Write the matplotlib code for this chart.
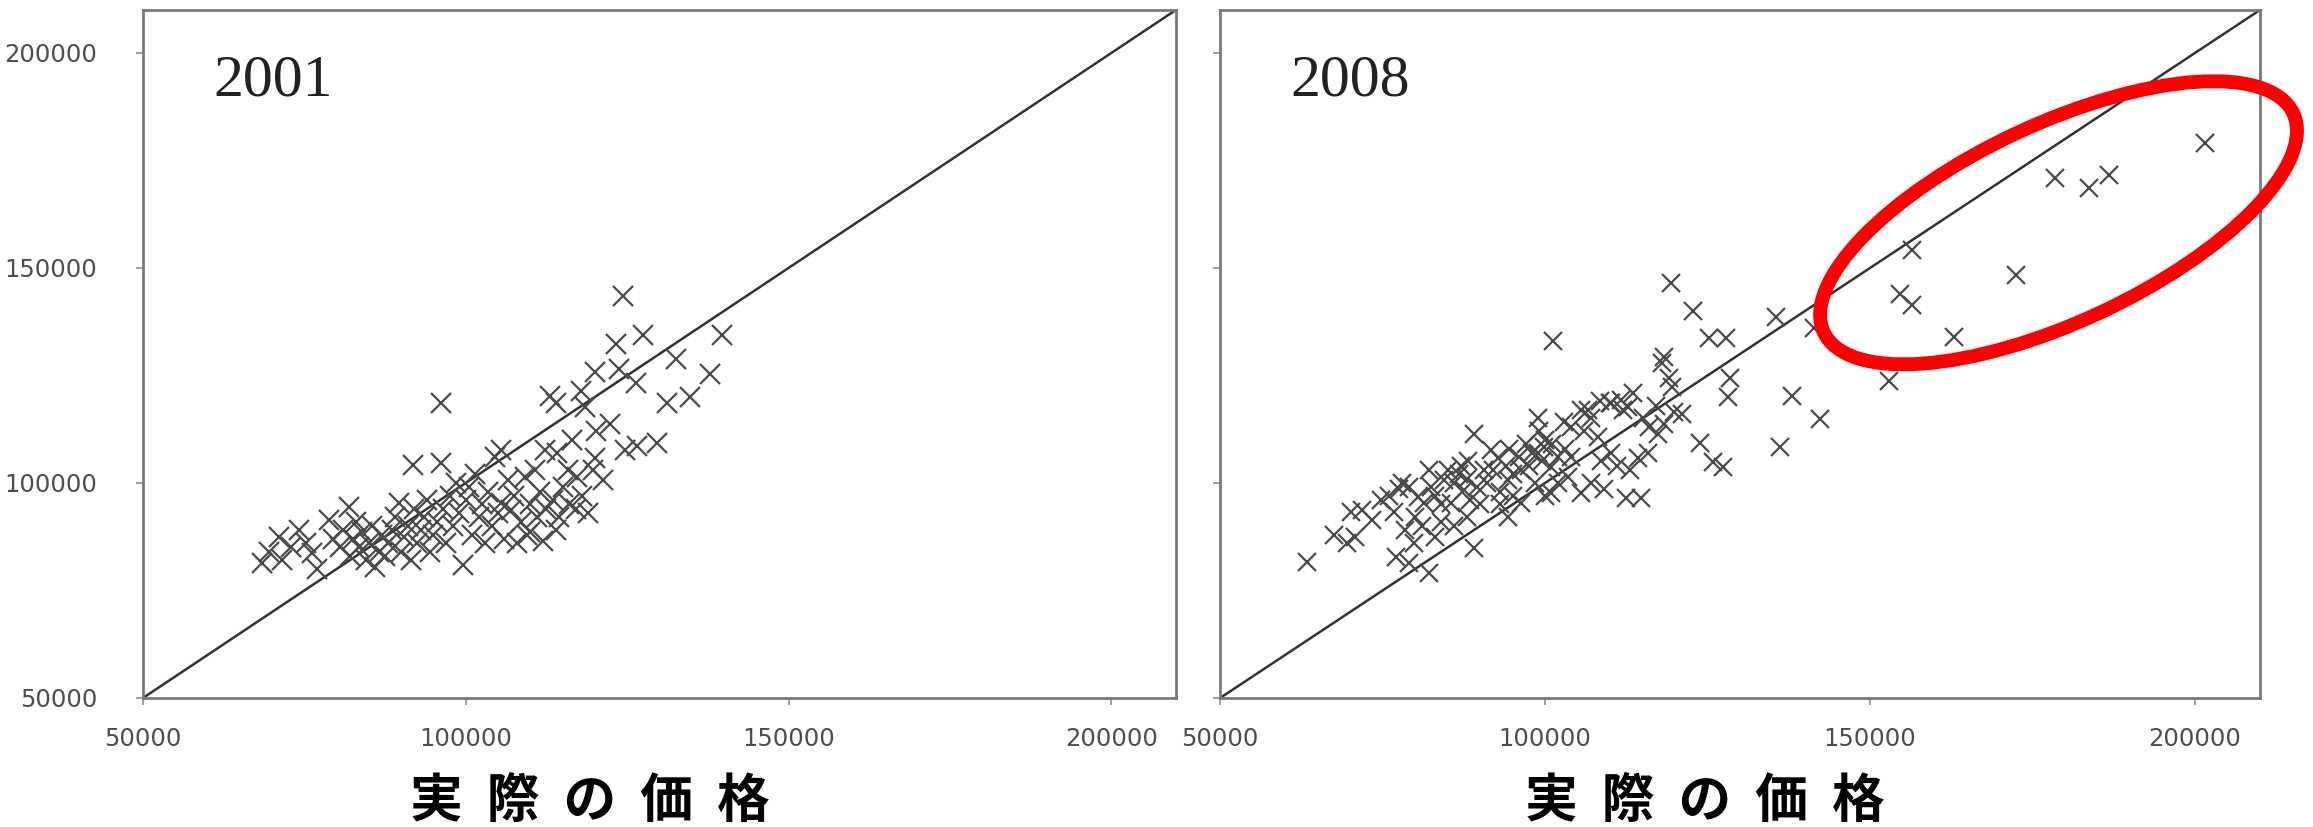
import numpy as np
import matplotlib.pyplot as plt
from matplotlib.patches import Ellipse
from matplotlib.transforms import ScaledTranslation

# predicted vs actual price, 2001
x2001 = [68500, 69500, 71100, 71600, 73000, 74200, 75300, 76200, 77000, 78800,
         79500, 80500, 81000, 81900, 82000, 82500, 83000, 83500, 84000, 84500,
         85000, 85500, 86000, 86500, 87000, 87500, 88000, 88500, 89000, 89600,
         90000, 90500, 91000, 91500, 91900, 92000, 92500, 93000, 93500, 94000,
         94500, 95000, 95500, 96200, 96200, 96500, 97000, 97500, 98000, 98500,
         99000, 99500, 100000, 100500, 101000, 101500, 102000, 102500, 103000, 103500,
         104000, 104500, 105000, 105500, 105500, 106000, 106500, 107000, 107500, 108000,
         108500, 109200, 109500, 110000, 110000, 110700, 111000, 111500, 112000, 112200,
         112500, 113000, 113500, 114000, 114000, 114200, 114500, 115000, 115800, 116000,
         116500, 117000, 117300, 117800, 118000, 118400, 119000, 119700, 120000, 120000,
         120100, 121200, 122400, 123200, 123800, 124300, 124700, 126300, 126600, 127400,
         129700, 131200, 132600, 134700, 137800, 139700]
y2001 = [81300, 84000, 87400, 82000, 85000, 89000, 86000, 83700, 80000, 91300,
         87000, 85000, 89000, 94300, 83000, 87000, 91000, 85000, 88500, 82000,
         86000, 90000, 80400, 84000, 88000, 83000, 86000, 89000, 92000, 95300,
         84000, 87500, 90000, 82000, 104100, 94000, 86000, 89000, 92000, 96000,
         84000, 88000, 91000, 104600, 118500, 94000, 86000, 97000, 90000, 100000,
         93000, 81000, 96000, 99000, 88000, 102000, 92000, 95000, 86000, 98000,
         90000, 106000, 93000, 107600, 95300, 87000, 100600, 93600, 97000, 86000,
         91000, 101300, 88000, 95000, 88500, 102900, 92000, 98000, 86500, 107600,
         94000, 120300, 96000, 118700, 89000, 106900, 92000, 99000, 102900, 95000,
         110000, 94000, 101300, 121500, 97000, 117600, 93000, 102900, 125700, 105700,
         112200, 100600, 113800, 132400, 126600, 143500, 107600, 123300, 108700, 134300,
         109200, 118700, 128900, 119900, 125400, 134300]

# predicted vs actual price, 2008
x2008 = [63300, 67500, 69500, 70700, 70200, 71800, 73300, 74800, 76000, 76800,
         77100, 77500, 78000, 78400, 79000, 79000, 79900, 80000, 80500, 81000,
         81400, 82100, 82200, 82500, 83000, 83000, 84000, 84000, 84500, 85000,
         85600, 86000, 86000, 86700, 87000, 87600, 88000, 88000, 88200, 88500,
         89100, 89100, 89500, 90000, 90600, 91000, 91700, 92000, 92800, 93000,
         93000, 94000, 94300, 94300, 94500, 95000, 95000, 96000, 96300, 96300,
         97000, 97500, 98000, 98500, 98900, 98900, 99000, 99500, 99900, 100000,
         100000, 100900, 100900, 101000, 101200, 102000, 102000, 102900, 103000, 103500,
         104000, 104000, 105500, 105500, 106000, 106600, 107000, 107000, 108100, 108500,
         108600, 109000, 110000, 110100, 110100, 111000, 111700, 112000, 112400, 112700,
         113000, 113500, 114300, 114700, 115000, 115800, 116000, 117000, 117300, 118000,
         118300, 118300, 119000, 119300, 119600, 119800, 121000, 122700, 123900, 125200,
         125800, 127300, 127800, 128100, 128500, 135600, 136200, 138000, 141300, 142300,
         152900, 154600, 156400, 156400, 162900, 172400, 178500, 183700, 186700, 201500]
y2008 = [81600, 87800, 86000, 87400, 93200, 93600, 91300, 96000, 97000, 93200,
         82700, 98500, 100000, 89000, 81300, 99000, 86000, 92000, 96700, 90000,
         95300, 79000, 102900, 99000, 87400, 97000, 95000, 91000, 100600, 103000,
         95300, 100000, 90000, 102200, 104000, 98300, 101000, 92000, 105200, 96000,
         111500, 84800, 99000, 95000, 102900, 100000, 107600, 103000, 105900, 98000,
         95000, 104000, 100600, 92000, 108000, 102000, 97000, 106000, 102900, 95300,
         109000, 104000, 107000, 100000, 115000, 106900, 112000, 105000, 108300, 110000,
         97000, 103600, 97600, 109000, 133100, 106000, 100000, 114100, 108000, 101300,
         113000, 106000, 117000, 97600, 112200, 116900, 115000, 100000, 110600, 119000,
         105200, 98700, 118500, 106900, 118500, 104000, 119200, 117000, 96400, 117600,
         103000, 121000, 105900, 96400, 115000, 106900, 113000, 118000, 111500, 128000,
         129200, 113800, 124500, 146600, 122200, 116400, 116000, 140100, 109400, 133600,
         104800, 103600, 133600, 119900, 124500, 138700, 108300, 120300, 136100, 114800,
         123600, 144000, 141400, 154200, 134000, 148400, 171000, 168600, 171600, 179000]

years = ['2001', '2008']
xlabel = '実  際  の  価  格'
ticks = [50000, 100000, 150000, 200000]
lim = (50000, 210000)

fig = plt.figure(figsize=(23.13, 8.27), dpi=100)
ax1 = fig.add_axes([0.0618, 0.156, 0.4466, 0.832])
ax2 = fig.add_axes([0.5275, 0.156, 0.4496, 0.832])

for ax, xs, ys, year, ms in [(ax1, x2001, y2001, years[0], 15), (ax2, x2008, y2008, years[1], 13)]:
    ax.plot(xs, ys, 'x', color='#4a4a4a', markersize=ms, markeredgewidth=1.6, zorder=3)
    ax.plot(lim, lim, color='#333333', lw=1.8, zorder=2)
    ax.set_xlim(lim)
    ax.set_ylim(lim)
    ax.set_xticks(ticks)
    ax.set_yticks(ticks)
    for s in ax.spines.values():
        s.set_color('#7a7a7a')
        s.set_linewidth(2)
    ax.tick_params(direction='out', length=5, width=1.2, color='#909090',
                   labelcolor='#4d4d4d', labelsize=17.5)
    ax.tick_params(axis='x', pad=16)
    ax.tick_params(axis='y', pad=28)
    ax.text(0.068, 0.935, year, transform=ax.transAxes, fontsize=43,
            family='Liberation Serif', color='#222222', va='top', ha='left')

ax2.tick_params(axis='y', labelleft=False)

for xc in [0.255, 0.737]:
    fig.text(xc, 0.03, xlabel, ha='center', va='center', fontsize=38,
             fontweight='bold', family=['Noto Sans CJK JP', 'DejaVu Sans'])

# red ring around the high-priced homes (size in inches, centred on a data point)
ring = Ellipse((0, 0), 5.18, 1.98, angle=25, fill=False, ec='#ff0000', lw=10,
               transform=fig.dpi_scale_trans + ScaledTranslation(179000, 160500, ax2.transData),
               clip_on=False, zorder=5)
ax2.add_patch(ring)

fig.savefig('out.png', dpi=100)
